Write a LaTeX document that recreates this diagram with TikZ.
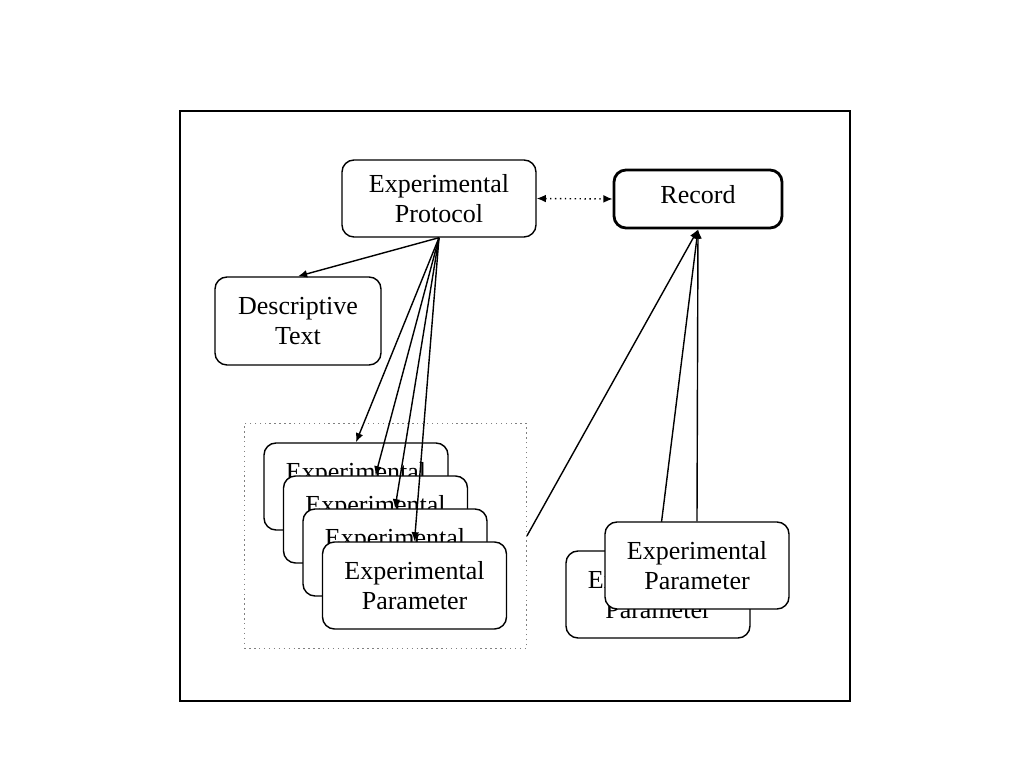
\documentclass[tikz,border=0pt]{standalone}
\usepackage{fontspec}
\setmainfont{Liberation Serif}
\usetikzlibrary{arrows.meta,fit}

\begin{document}
\begin{tikzpicture}[>={Latex[length=2.6pt,width=2.2pt]},
    box/.style={draw, rounded corners=0.12cm, fill=white, align=center,
        inner sep=0pt, font=\fontsize{7.4}{8.6}\selectfont},
    param/.style={box, minimum width=1.84cm, minimum height=0.87cm}]
    \useasboundingbox (0,0) rectangle (10.24,7.68);
    \draw (1.80,0.67) rectangle (8.50,6.57);

    \node[box, minimum width=1.94cm, minimum height=0.77cm] (proto) at (4.39,5.695) {Experimental\\Protocol};
    \node[box, thick, minimum width=1.68cm, minimum height=0.58cm, text depth=0.1cm] (rec) at (6.98,5.69) {Record};
    \node[box, minimum width=1.66cm, minimum height=0.88cm] (desc) at (2.98,4.47) {Descriptive\\Text};

    \foreach \i/\x/\y in {1/3.56/2.815, 2/3.755/2.485, 3/3.95/2.155, 4/4.145/1.825}
        \node[param] (p\i) at (\x,\y) {Experimental\\Parameter};
    \node[draw, gray, densely dotted, inner sep=0.19cm, fit=(p1)(p4)] (group) {};

    \draw[->] (proto.south) -- (desc.north);
    \foreach \i in {1,...,4}
        \draw[->] (proto.south) -- (p\i.north);
    \draw[<->, densely dotted] (proto.east) -- (rec.west);
    \draw[->] (group.east) -- (rec.south);

    \node[param] (q1) at (6.58,1.735) {Experimental\\Parameter};
    \draw[->] (q1.north) -- (rec.south);
    \node[param] (q2) at (6.97,2.025) {Experimental\\Parameter};
    \draw[->] (q2.north) -- (rec.south);
\end{tikzpicture}
\end{document}
